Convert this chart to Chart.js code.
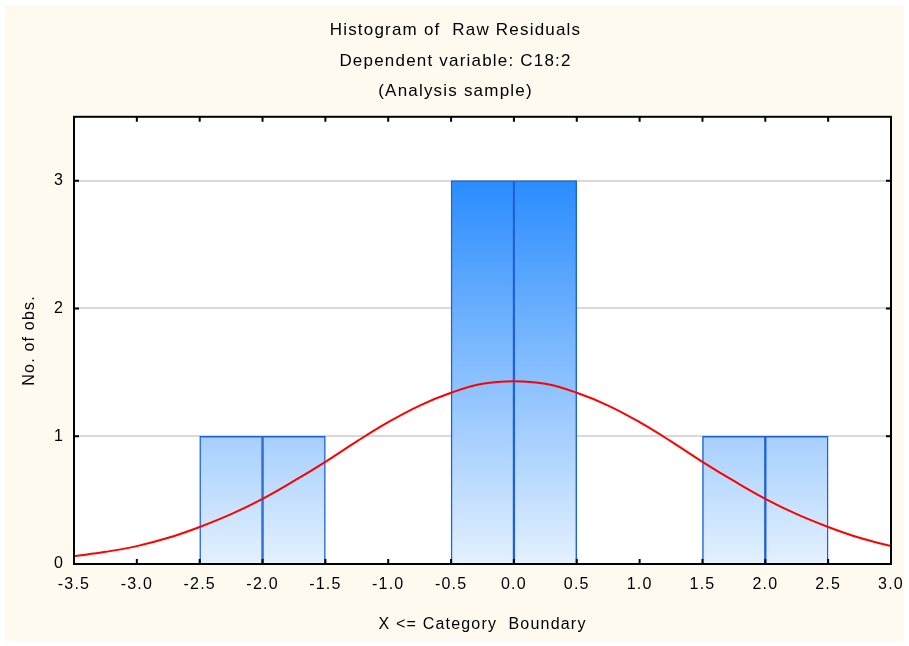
<html>
  <head>
   <title>Histogram of Raw Residuals</title>
   <script src="https://cdn.jsdelivr.net/npm/chart.js@4.4.1/dist/chart.umd.min.js"></script>
   <style>
    body { margin:0; background:#ffffff; }
    #hist { display:block; }
   </style>
  </head>

  <body>
    <canvas id="hist" width="909" height="646"></canvas>
  </body>

  <script>
    // histogram bins (upper category boundary) and counts
    var binUpper = [-2.0, -1.5, 0.0, 0.5, 2.0, 2.5];
    var binCounts = [1, 1, 3, 3, 1, 1];
    var binWidth = 0.5;

    // fitted normal curve
    var curveX = [-3.5, -3.25, -3.0, -2.75, -2.5, -2.25, -2.0, -1.75, -1.5, -1.25, -1.0, -0.75, -0.5, -0.25,
                  0.0, 0.25, 0.5, 0.75, 1.0, 1.25, 1.5, 1.75, 2.0, 2.25, 2.5, 2.75, 3.0];
    var curveY = [0.06, 0.095, 0.14, 0.205, 0.29, 0.39, 0.51, 0.65, 0.80, 0.96, 1.11, 1.24, 1.34, 1.41,
                  1.43, 1.41, 1.34, 1.24, 1.11, 0.96, 0.80, 0.65, 0.51, 0.39, 0.29, 0.205, 0.14];

    // tick labels
    var xTicks = [-3.5, -3.0, -2.5, -2.0, -1.5, -1.0, -0.5, 0.0, 0.5, 1.0, 1.5, 2.0, 2.5, 3.0];
    var yTicks = [0, 1, 2, 3];

    var titleLines = ['Histogram of  Raw Residuals', 'Dependent variable: C18:2', '(Analysis sample)'];
    var fontFam = "'Liberation Sans', Arial, sans-serif";

    var barData = [];
    for (i = 0; i < binUpper.length; i++) {
      barData.push({x: binUpper[i] - binWidth / 2, y: binCounts[i]});
    }
    var curveData = [];
    for (i = 0; i < curveX.length; i++) {
      curveData.push({x: curveX[i], y: curveY[i]});
    }

    // the original renders its text a bit spaced out
    var spacingPlugin = {
      id: 'spacing',
      beforeLayout: function(chart) { chart.ctx.letterSpacing = '1.2px'; },
      beforeDraw: function(chart) { chart.ctx.letterSpacing = '1.2px'; }
    };

    // page background + white plot area
    var backPlugin = {
      id: 'back',
      beforeDraw: function(chart) {
        var ctx = chart.ctx, a = chart.chartArea;
        ctx.save();
        ctx.fillStyle = '#ffffff';
        ctx.fillRect(0, 0, chart.width, chart.height);
        ctx.fillStyle = '#fefaf0';
        ctx.fillRect(5, 5, chart.width - 10, chart.height - 10);
        ctx.fillStyle = '#ffffff';
        ctx.fillRect(a.left, a.top, a.right - a.left, a.bottom - a.top);
        ctx.restore();
      }
    };

    // black frame with inward ticks
    var framePlugin = {
      id: 'frame',
      afterDatasetsDraw: function(chart) {
        var ctx = chart.ctx, a = chart.chartArea;
        var xs = chart.scales.x, ys = chart.scales.y;
        ctx.save();
        ctx.strokeStyle = '#000000';
        ctx.lineWidth = 2;
        ctx.strokeRect(a.left, a.top, a.right - a.left, a.bottom - a.top);
        ctx.beginPath();
        for (i = 0; i < xs.ticks.length; i++) {
          var px = xs.getPixelForTick(i);
          ctx.moveTo(px, a.bottom); ctx.lineTo(px, a.bottom - 5);
          ctx.moveTo(px, a.top); ctx.lineTo(px, a.top + 5);
        }
        for (i = 0; i < ys.ticks.length; i++) {
          var py = ys.getPixelForTick(i);
          ctx.moveTo(a.left, py); ctx.lineTo(a.left + 5, py);
          ctx.moveTo(a.right, py); ctx.lineTo(a.right - 5, py);
        }
        ctx.stroke();
        ctx.restore();
      }
    };

    function barFill(c) {
      var chart = c.chart;
      if (!chart.chartArea) return '#8fc3fc';
      var ys = chart.scales.y;
      var g = chart.ctx.createLinearGradient(0, ys.getPixelForValue(3), 0, ys.getPixelForValue(0));
      g.addColorStop(0, '#2a8cff');
      g.addColorStop(1, '#e4f1fe');
      return g;
    }

    new Chart(document.getElementById('hist'), {
      type: 'bar',
      data: {
        datasets: [
          {
            type: 'line',
            data: curveData,
            borderColor: '#ff0000',
            borderWidth: 2,
            pointRadius: 0,
            tension: 0.4,
            fill: false,
            order: 0
          },
          {
            type: 'bar',
            data: barData,
            backgroundColor: barFill,
            borderColor: '#1f62d6',
            borderWidth: 1.5,
            categoryPercentage: 1.0,
            barPercentage: 1.0,
            order: 1
          }
        ]
      },
      options: {
        responsive: false,
        animation: false,
        layout: { padding: { left: 20, right: 18, top: 0, bottom: 12 } },
        plugins: {
          legend: { display: false },
          tooltip: { enabled: false },
          title: {
            display: true,
            text: titleLines,
            color: '#000000',
            font: { family: fontFam, size: 17, weight: 'normal', lineHeight: 1.8 },
            padding: { top: 15, bottom: 10 }
          }
        },
        scales: {
          x: {
            type: 'linear',
            min: -3.5,
            max: 3.0,
            offset: false,
            afterBuildTicks: function(scale) {
              scale.ticks = xTicks.map(function(v) { return {value: v}; });
            },
            afterFit: function(scale) {
              scale.height = 70;
              scale.paddingLeft = 0;
              scale.paddingRight = 0;
            },
            grid: { display: false, drawTicks: false },
            border: { display: false },
            ticks: {
              color: '#000000',
              padding: 11,
              maxRotation: 0,
              autoSkip: false,
              font: { family: fontFam, size: 16 },
              callback: function(v) { return Number(v).toFixed(1); }
            },
            title: {
              display: true,
              text: 'X <= Category  Boundary',
              color: '#000000',
              padding: 0,
              font: { family: fontFam, size: 16 }
            }
          },
          y: {
            min: 0,
            max: 3.5,
            afterBuildTicks: function(scale) {
              scale.ticks = yTicks.map(function(v) { return {value: v}; });
            },
            afterFit: function(scale) { scale.width = 54; },
            grid: { color: '#d9d9d9', lineWidth: 2, drawTicks: false },
            border: { display: false },
            ticks: {
              color: '#000000',
              padding: 10,
              font: { family: fontFam, size: 16 }
            },
            title: {
              display: true,
              text: 'No. of obs.',
              color: '#000000',
              padding: 0,
              font: { family: fontFam, size: 16 }
            }
          }
        }
      },
      plugins: [spacingPlugin, backPlugin, framePlugin]
    });
  </script>
</html>
